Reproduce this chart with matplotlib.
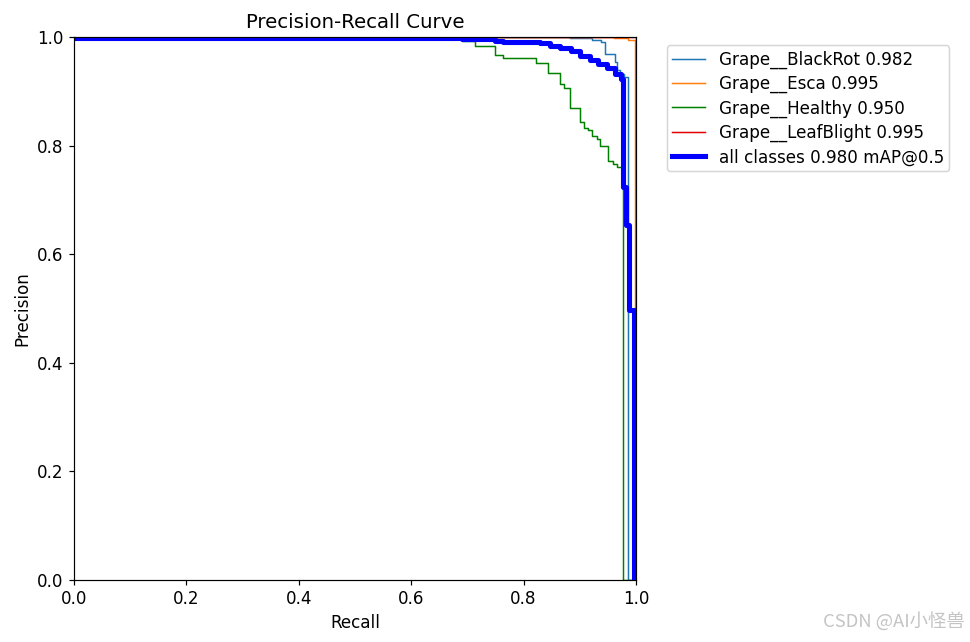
import numpy as np
import matplotlib
matplotlib.use("Agg")
import matplotlib.pyplot as plt

# ---- data ----
blackrot_r = [0.0, 0.883, 0.921, 0.938, 0.944, 0.963, 0.966, 0.972, 0.9785, 0.9855, 1.0]
blackrot_p = [1.0, 0.998, 0.995, 0.990, 0.968, 0.954, 0.939, 0.932, 0.926, 0.0, 0.0]

esca_r = [0.0, 0.960, 0.986, 0.999, 1.0]
esca_p = [1.0, 0.998, 0.995, 0.0, 0.0]

healthy_r = [0.0, 0.691, 0.713, 0.749, 0.764, 0.822, 0.844, 0.865, 0.8725, 0.8826,
             0.9004, 0.9075, 0.915, 0.922, 0.930, 0.936, 0.951, 0.9585, 0.9656, 0.977, 1.0]
healthy_p = [0.999, 0.992, 0.983, 0.966, 0.961, 0.953, 0.933, 0.913, 0.9055, 0.870,
             0.843, 0.833, 0.829, 0.818, 0.813, 0.800, 0.772, 0.7655, 0.761, 0.0, 0.0]

leafblight_r = [0.0, 0.9995, 1.0]
leafblight_p = [1.0, 0.0, 0.0]

all_r = [0.0, 0.691, 0.749, 0.764, 0.829, 0.847, 0.865, 0.885, 0.900, 0.918, 0.933,
         0.948, 0.963, 0.974, 0.977, 0.983, 0.9875, 0.997, 1.0]
all_p = [0.998, 0.996, 0.993, 0.991, 0.989, 0.983, 0.980, 0.974, 0.965, 0.957, 0.951,
         0.942, 0.932, 0.923, 0.724, 0.654, 0.497, 0.0, 0.0]

class_names = ["Grape__BlackRot", "Grape__Esca", "Grape__Healthy", "Grape__LeafBlight"]
class_ap = [0.982, 0.995, 0.950, 0.995]
map50 = 0.980

plt.rcParams["font.size"] = 11.2

dpi = 970 / 9.0
fig = plt.figure(figsize=(9.0, 642 / dpi), dpi=dpi)
ax = fig.add_axes([74 / 970, (642 - 580) / 642, (636 - 74) / 970, (580 - 37) / 642])

curves = [(blackrot_r, blackrot_p), (esca_r, esca_p), (healthy_r, healthy_p), (leafblight_r, leafblight_p)]
colors = ["#1f77b4", "#ff7f0e", "#008000", "#e00000"]
for (r, p), name, ap, c in zip(curves, class_names, class_ap, colors):
    ax.plot(r, p, drawstyle="steps-post", linewidth=1, color=c, label=f"{name} {ap:.3f}")

ax.plot(all_r, all_p, drawstyle="steps-post", linewidth=3.4, color="blue",
        label=f"all classes {map50:.3f} mAP@0.5")

ax.set_xlabel("Recall")
ax.set_ylabel("Precision")
ax.set_xlim(0, 1)
ax.set_ylim(0, 1)
ax.set_title("Precision-Recall Curve", fontsize=13.2)
ax.legend(bbox_to_anchor=(1.04, 1), loc="upper left", labelspacing=0.37, borderpad=0.3)

fig.text(0.995, 0.022, "CSDN @AI小怪兽", ha="right", va="baseline", fontsize=12.3,
         color="#c4c4c4", family=["Noto Sans CJK SC", "DejaVu Sans"])

fig.savefig("out.png", dpi=dpi)
